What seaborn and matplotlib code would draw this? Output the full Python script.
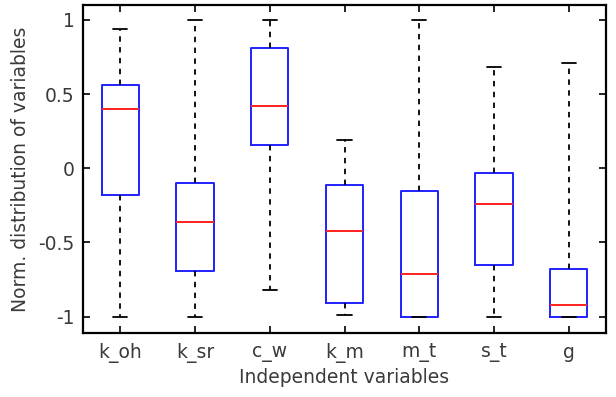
import matplotlib
matplotlib.use("Agg")
import matplotlib.pyplot as plt
import seaborn as sns
import pandas as pd

categories = ["k_oh", "k_sr", "c_w", "k_m", "m_t", "s_t", "g"]
lower_whisker = [-1.00, -1.00, -0.82, -0.99, -1.00, -1.00, -1.00]
q1 = [-0.18, -0.69, 0.16, -0.91, -1.00, -0.65, -1.00]
median = [0.40, -0.36, 0.42, -0.42, -0.71, -0.24, -0.92]
q3 = [0.56, -0.10, 0.81, -0.11, -0.15, -0.03, -0.68]
upper_whisker = [0.94, 1.00, 1.00, 0.19, 1.00, 0.68, 0.71]
yticks = [-1, -0.5, 0, 0.5, 1]
ytick_labels = ["-1", "-0.5", "0", "0.5", "1"]

rows = []
for i, c in enumerate(categories):
    for v in (lower_whisker[i], q1[i], median[i], q3[i], upper_whisker[i]):
        rows.append({"var": c, "val": v})
df = pd.DataFrame(rows)

sns.set_theme(style="white")
plt.rcParams["font.family"] = ["DejaVu Sans"]

fig = plt.figure(figsize=(6.16, 3.97), dpi=100)
ax = fig.add_axes([83/616, 1 - 333/397, (606-83)/616, (333-5)/397])

sns.boxplot(data=df, x="var", y="val", order=categories, whis=(0, 100),
            width=0.5, fill=False, color="blue", ax=ax,
            boxprops=dict(color="#2020ff", linewidth=1.4),
            medianprops=dict(color="#ff2020", linewidth=1.4),
            whiskerprops=dict(color="black", linewidth=1.3, linestyle=(0, (3, 3))),
            capprops=dict(color="black", linewidth=1.3),
            showfliers=False)

# narrow the whisker caps (MATLAB-style short caps)
for ln in ax.lines:
    xd = list(ln.get_xdata())
    yd = list(ln.get_ydata())
    if len(xd) == 2 and yd[0] == yd[1] and ln.get_linestyle() == "-" and ln.get_color() == "black":
        c = (xd[0] + xd[1]) / 2
        h = (xd[1] - xd[0]) / 2 * 0.75
        ln.set_xdata([c - h, c + h])

ax.set_xlim(-0.5, 6.5)
ax.set_ylim(-1.11, 1.10)
ax.set_yticks(yticks)
ax.set_yticklabels(ytick_labels)
ax.set_xlabel("Independent variables", fontsize=13.5, color="#3a3a3a", labelpad=4)
ax.set_ylabel("Norm. distribution of variables", fontsize=13.5, color="#3a3a3a", labelpad=6)
ax.tick_params(axis="both", which="both", direction="in", length=5, width=1.2,
               labelsize=13.5, labelcolor="#3a3a3a", color="black",
               top=True, right=True, bottom=True, left=True)
ax.tick_params(axis="x", pad=7)
ax.tick_params(axis="y", pad=6)
for s in ax.spines.values():
    s.set_visible(True)
    s.set_color("black")
    s.set_linewidth(1.6)

fig.savefig("out.png", dpi=100)
